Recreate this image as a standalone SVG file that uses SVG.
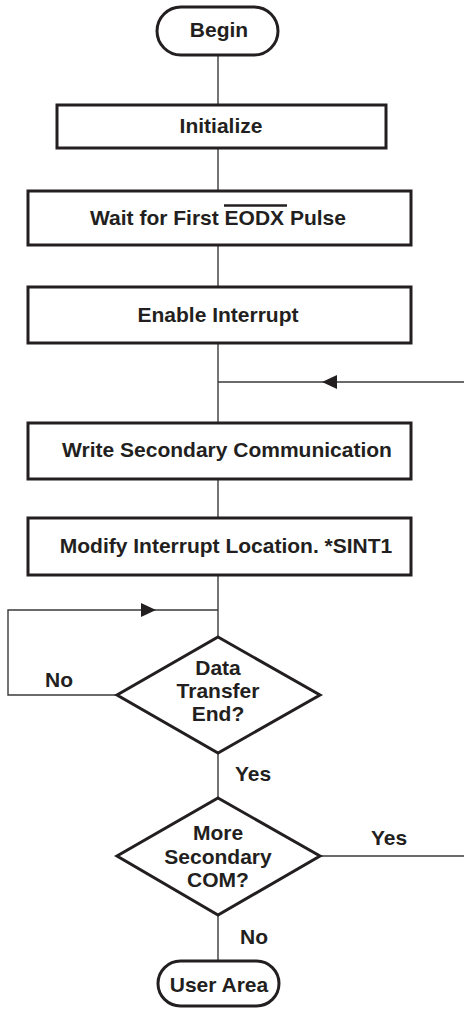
<svg xmlns="http://www.w3.org/2000/svg" width="464" height="1009" viewBox="0 0 464 1009">
<style>
.box{fill:#fff;stroke:#231f20;stroke-width:3}
.ln{fill:none;stroke:#3a3a3a;stroke-width:1.4}
.ah{fill:#231f20;stroke:none}
text{font-family:"Liberation Sans",Arial,sans-serif;font-weight:bold;font-size:21px;fill:#231f20;text-anchor:middle}
</style>
<rect width="464" height="1009" fill="#fff"/>
<g id="connectors">
<path class="ln" d="M218,55V105"/>
<path class="ln" d="M218,148V191"/>
<path class="ln" d="M218,245V287"/>
<path class="ln" d="M218,343V423"/>
<path class="ln" d="M218,382H464"/>
<polygon class="ah" points="322,382 337,375 337,389"/>
<path class="ln" d="M218,479V518"/>
<path class="ln" d="M218,575V637"/>
<path class="ln" d="M117,695H8V610H218"/>
<polygon class="ah" points="156,610 141,603 141,617"/>
<path class="ln" d="M218,753V798"/>
<path class="ln" d="M320,856H464"/>
<path class="ln" d="M218,915V961"/>
<text x="59" y="687">No</text>
<text x="253" y="781">Yes</text>
<text x="389" y="845">Yes</text>
<text x="254" y="944">No</text>
</g>
<g id="begin">
<rect class="box" x="157" y="7" width="121" height="48" rx="24"/>
<text x="219" y="37">Begin</text>
</g>
<g id="initialize">
<rect class="box" x="57" y="105" width="329" height="43"/>
<text x="221" y="133">Initialize</text>
</g>
<g id="wait">
<rect class="box" x="28" y="191" width="383" height="54"/>
<text x="218" y="225">Wait for First EODX Pulse</text>
<line x1="224" y1="205.5" x2="287" y2="205.5" stroke="#231f20" stroke-width="2.5"/>
</g>
<g id="enable">
<rect class="box" x="28" y="287" width="383" height="56"/>
<text x="218" y="322">Enable Interrupt</text>
</g>
<g id="write">
<rect class="box" x="28" y="423" width="383" height="56"/>
<text x="227" y="457">Write Secondary Communication</text>
</g>
<g id="modify">
<rect class="box" x="28" y="518" width="383" height="57"/>
<text x="226" y="553">Modify Interrupt Location. *SINT1</text>
</g>
<g id="dataend">
<polygon class="box" points="218,637 320,695 218,753 117,695"/>
<text x="218" y="675">Data</text>
<text x="218" y="698">Transfer</text>
<text x="218" y="721">End?</text>
</g>
<g id="morecom">
<polygon class="box" points="218,798 320,856 218,915 117,856"/>
<text x="218" y="840">More</text>
<text x="218" y="864">Secondary</text>
<text x="218" y="887">COM?</text>
</g>
<g id="userarea">
<rect class="box" x="158" y="961" width="121" height="45" rx="22.5"/>
<text x="219" y="992">User Area</text>
</g>
</svg>
